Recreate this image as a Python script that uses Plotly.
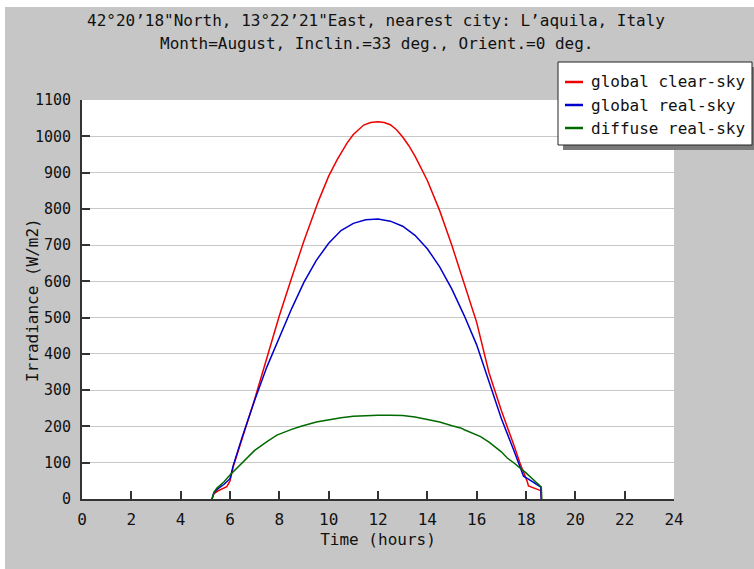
import plotly.graph_objects as go

# ---- data ----
hours_clear = [5.27, 5.35, 5.5, 5.75, 5.87, 6.0, 6.13, 6.5, 7.0, 7.5, 8.0, 8.5, 9.0, 9.6, 10.0, 10.34,
               10.75, 11.0, 11.42, 11.7, 12.0, 12.25, 12.5, 12.75, 13.0, 13.25, 13.5, 14.0, 14.5,
               15.0, 15.5, 16.0, 16.5, 17.0, 17.5, 17.75, 18.05, 18.1, 18.6, 18.62]
clear_sky = [0, 15, 22, 30, 34, 50, 89, 168, 275, 390, 505, 610, 712, 824, 890, 935,
             982, 1005, 1031, 1038, 1040, 1038, 1032, 1018, 998, 974, 945, 878, 795,
             698, 592, 487, 348, 244, 150, 100, 48, 36, 23, 0]

hours_real = [5.27, 5.35, 5.5, 5.75, 6.0, 6.13, 6.5, 7.0, 7.5, 8.0, 8.5, 9.0, 9.5, 10.0, 10.5, 11.0,
              11.5, 12.0, 12.5, 13.0, 13.5, 14.0, 14.5, 15.0, 15.5, 16.0, 16.5, 16.7, 17.0, 17.5,
              17.9, 18.1, 18.6, 18.62]
real_sky = [0, 18, 28, 40, 56, 92, 172, 272, 365, 445, 525, 598, 658, 705, 740, 760,
            770, 772, 766, 752, 727, 690, 640, 578, 505, 425, 325, 280, 222, 135,
            63, 55, 33, 0]

hours_diff = [5.27, 5.36, 5.47, 5.75, 6.0, 6.5, 7.0, 7.5, 7.9, 8.5, 8.85, 9.5, 9.93, 10.5, 11.0, 11.5,
              12.0, 12.5, 13.0, 13.5, 14.0, 14.5, 15.0, 15.35, 15.5, 16.16, 16.5, 17.0, 17.24, 17.5,
              18.0, 18.3, 18.62, 18.64]
diffuse = [0, 20, 30, 47, 66, 100, 134, 158, 176, 192, 200, 212, 218, 224, 228, 230,
           231, 231, 230, 226, 220, 212, 202, 196, 191, 172, 157, 130, 113, 100,
           72, 52, 33, 0]

series_names = ["global clear-sky", "global real-sky", "diffuse real-sky"]
series_colors = ["#ee0000", "#0000cc", "#006a00"]

x_ticks = list(range(0, 25, 2))
y_ticks = list(range(0, 1101, 100))

title_lines = ["42°20’18\"North, 13°22’21\"East, nearest city: L’aquila, Italy",
               "Month=August, Inclin.=33 deg., Orient.=0 deg."]
x_title = "Time (hours)"
y_title = "Irradiance (W/m2)"

# ---- geometry ----
W, H = 754, 569
L, R, T, B = 82, 674, 100, 499
FONT = "DejaVu Sans Mono"
FS = 16


def px(xp):
    return (xp - L) / (R - L)


def py(yp):
    return (B - yp) / (B - T)


fig = go.Figure()
for hx, vals, name, col in zip([hours_clear, hours_real, hours_diff],
                               [clear_sky, real_sky, diffuse],
                               series_names, series_colors):
    fig.add_trace(go.Scatter(x=hx, y=vals, mode="lines", name=name,
                             line=dict(color=col, width=1.5), showlegend=False))

shapes = []
annotations = []
# white outer strip (top/left)
shapes.append(dict(type="rect", xref="paper", yref="paper", x0=px(0), x1=px(W), y0=py(0), y1=py(7),
                   fillcolor="white", line=dict(width=0), layer="above"))
shapes.append(dict(type="rect", xref="paper", yref="paper", x0=px(0), x1=px(5), y0=py(0), y1=py(H),
                   fillcolor="white", line=dict(width=0), layer="above"))

# legend
lx0, lx1, ly0, ly1 = 558, 752, 62, 145
shapes.append(dict(type="rect", xref="paper", yref="paper", x0=px(lx0 + 5), x1=px(lx1 + 5),
                   y0=py(ly1 + 5), y1=py(ly0 + 5), fillcolor="#7a7a7a", line=dict(width=0), layer="above"))
shapes.append(dict(type="rect", xref="paper", yref="paper", x0=px(lx0), x1=px(lx1),
                   y0=py(ly1), y1=py(ly0), fillcolor="white", line=dict(color="#222", width=1), layer="above"))
for i, (name, col) in enumerate(zip(series_names, series_colors)):
    yy = 82 + i * 23
    shapes.append(dict(type="line", xref="paper", yref="paper", x0=px(565), x1=px(583),
                       y0=py(yy), y1=py(yy), line=dict(color=col, width=2.5), layer="above"))
    annotations.append(dict(text=name, xref="paper", yref="paper", x=px(589), y=py(yy),
                            xanchor="left", yanchor="middle", showarrow=False,
                            font=dict(family=FONT, size=FS, color="#111")))

for i, line in enumerate(title_lines):
    annotations.append(dict(text=line, xref="paper", yref="paper", x=px(376), y=py(20 + i * 23),
                            xanchor="center", yanchor="middle", showarrow=False,
                            font=dict(family=FONT, size=FS, color="#111")))

annotations.append(dict(text=y_title, xref="paper", yref="paper", x=px(32), y=py(300),
                        xanchor="center", yanchor="middle", textangle=-90, showarrow=False,
                        font=dict(family=FONT, size=FS, color="#111")))

fig.update_layout(
    width=W, height=H,
    margin=dict(l=L, r=W - R, t=T, b=H - B, pad=0),
    paper_bgcolor="#c6c6c6", plot_bgcolor="white",
    font=dict(family=FONT, size=FS, color="#111"),
    shapes=shapes, annotations=annotations,
    showlegend=False,
)
fig.update_xaxes(range=[0, 24], tickvals=x_ticks, ticktext=[str(v) for v in x_ticks],
                 ticks="inside", ticklen=8, tickwidth=2, tickcolor="#333",
                 showline=True, linecolor="#333", linewidth=2, showgrid=False, zeroline=False,
                 ticklabelstandoff=5,
                 title=dict(text=x_title, standoff=6, font=dict(family=FONT, size=FS)),
                 tickfont=dict(family=FONT, size=FS))
fig.update_yaxes(range=[0, 1100], tickvals=y_ticks, ticktext=[str(v) for v in y_ticks],
                 ticks="inside", ticklen=8, tickwidth=2, tickcolor="#333",
                 showline=True, linecolor="#333", linewidth=2, showgrid=True, gridcolor="#c8c8c8",
                 gridwidth=1, zeroline=False, ticklabelstandoff=6,
                 tickfont=dict(family=FONT, size=15))

fig.write_html("out.html", config={"displayModeBar": False},
               post_script="document.body.style.margin='0';document.body.style.overflow='hidden';")
